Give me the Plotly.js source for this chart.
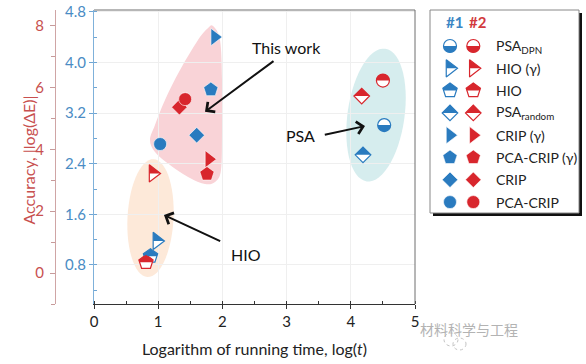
<!DOCTYPE html>
<html><head><meta charset="utf-8">
<script src="https://cdn.plot.ly/plotly-3.0.1.min.js"></script>
<style>html,body{margin:0;padding:0;background:#fff}#chart{width:586px;height:364px}</style>
</head><body><div id="chart"></div>
<script>
// ---------------- data ----------------
const methods = ['PSA_DPN', 'HIO (γ)', 'HIO', 'PSA_random', 'CRIP (γ)', 'PCA-CRIP (γ)', 'CRIP', 'PCA-CRIP'];
const legendLabels = ['PSA<sub>DPN</sub>', 'HIO (γ)', 'HIO', 'PSA<sub>random</sub>', 'CRIP (γ)', 'PCA-CRIP (γ)', 'CRIP', 'PCA-CRIP'];
const symbols = ['circle', 'triangle-right', 'pentagon', 'diamond', 'triangle-right', 'pentagon', 'diamond', 'circle'];
const half1 = ['bottom', 'top', 'top', 'top', '', '', '', ''];
const half2Legend = ['bottom', 'top', 'top', 'top', '', '', '', ''];
const half2Plot = ['top', 'top', 'top', 'top', '', '', '', ''];
// #1 (blue, inner axis 0.8..4.8)
const time1 = [4.52, 0.98, 0.88, 4.19, 1.88, 1.82, 1.60, 1.03];
const acc1  = [3.01, 1.18, 0.94, 2.54, 4.40, 3.57, 2.85, 2.71];
// #2 (red, outer axis 0..8)
const time2 = [4.50, 0.92, 0.81, 4.17, 1.79, 1.76, 1.33, 1.42];
const acc2  = [6.22, 3.22, 0.35, 5.72, 3.68, 3.20, 5.36, 5.62];
const xTicks = [0, 1, 2, 3, 4, 5];
const blueTicks = [0.8, 1.6, 2.4, 3.2, 4.0, 4.8];
const redTicks = [0, 2, 4, 6, 8];
const groupLabels = ['This work', 'PSA', 'HIO'];

// ---------------- style ----------------
const BLUE = '#2a7bbf', RED = '#d8262d';
const BLUE_TXT = '#4a8cc4', RED_TXT = '#c8504f';
const W = 586, H = 364, TOP = 10, BOT = 304;
const FONT = 'Lato, "Open Sans", sans-serif';
const symSize = {'circle': 13, 'triangle-right': 15, 'pentagon': 15, 'diamond': 12};
const px2x = p => p / W;
const py2y = p => (BOT - p) / (BOT - TOP);

function halfPath(sym, size, side) {
  const r = size / 2; let pts = [];
  if (sym === 'circle') { for (let i = 0; i <= 24; i++) { const a = Math.PI * i / 24; pts.push([r * Math.cos(a), r * Math.sin(a)]); } }
  else if (sym === 'triangle-right') { const rt = r * 2 / Math.sqrt(3); pts = [[-r / 2, rt], [r, 0], [-r / 2, 0]]; }
  else if (sym === 'pentagon') { pts = [[0, r], [0.951 * r, 0.309 * r], [0.8507 * r, 0], [-0.8507 * r, 0], [-0.951 * r, 0.309 * r]]; }
  else if (sym === 'diamond') { const rd = 1.3 * r; pts = [[-rd, 0], [0, rd], [rd, 0]]; }
  const s = side === 'bottom' ? -1 : 1;
  return 'M' + pts.map(p => p[0].toFixed(2) + ',' + (s * p[1]).toFixed(2)).join('L') + 'Z';
}
function ellipsePath(a, b, deg) {
  const th = deg * Math.PI / 180; const pts = [];
  for (let i = 0; i < 60; i++) {
    const t = 2 * Math.PI * i / 60; const x = a * Math.cos(t), y = b * Math.sin(t);
    const xs = x * Math.cos(th) - y * Math.sin(th), ys = x * Math.sin(th) + y * Math.cos(th);
    pts.push(xs.toFixed(2) + ',' + (-ys).toFixed(2));
  }
  return 'M' + pts.join('L') + 'Z';
}
function smoothClosed(pts) {
  const n = pts.length; const f = v => v.toFixed(4);
  let d = 'M' + f(pts[0][0]) + ',' + f(pts[0][1]);
  for (let i = 0; i < n; i++) {
    const p0 = pts[(i - 1 + n) % n], p1 = pts[i], p2 = pts[(i + 1) % n], p3 = pts[(i + 2) % n];
    const c1 = [p1[0] + (p2[0] - p0[0]) / 6, p1[1] + (p2[1] - p0[1]) / 6];
    const c2 = [p2[0] - (p3[0] - p1[0]) / 6, p2[1] - (p3[1] - p1[1]) / 6];
    d += 'C' + f(c1[0]) + ',' + f(c1[1]) + ' ' + f(c2[0]) + ',' + f(c2[1]) + ' ' + f(p2[0]) + ',' + f(p2[1]);
  }
  return d + 'Z';
}

// region outline (decoration, in blue-axis data units)
const blobPts = [[1.854, 4.574], [1.963, 4.353], [1.994, 3.721], [1.994, 2.932], [1.978, 2.299], [1.885, 2.110], [1.729, 2.078], [1.495, 2.173], [1.184, 2.378], [0.950, 2.584], [0.872, 2.773], [0.950, 3.010], [1.106, 3.405], [1.340, 3.879], [1.620, 4.353], [1.776, 4.542]];

const shapes = [];
shapes.push({type: 'path', xref: 'x', yref: 'y', path: smoothClosed(blobPts), fillcolor: '#f9d3d7', line: {width: 0}, layer: 'below'});
shapes.push({type: 'path', xref: 'x', yref: 'y', xsizemode: 'pixel', ysizemode: 'pixel', xanchor: 0.880, yanchor: 1.541, path: ellipsePath(23, 59, 3), fillcolor: '#fde9d9', line: {width: 0}, layer: 'below'});
shapes.push({type: 'path', xref: 'x', yref: 'y', xsizemode: 'pixel', ysizemode: 'pixel', xanchor: 4.393, yanchor: 3.168, path: ellipsePath(28.5, 67, 8), fillcolor: '#d6edee', line: {width: 0}, layer: 'below'});
// frame top/right
shapes.push({type: 'line', xref: 'x domain', yref: 'y domain', x0: 0, x1: 1, y0: 1, y1: 1, line: {color: '#6f6f6f', width: 1}});
shapes.push({type: 'line', xref: 'x domain', yref: 'y domain', x0: 1, x1: 1, y0: 0, y1: 1, line: {color: '#6f6f6f', width: 1}});
// legend box + shadow
shapes.push({type: 'rect', xref: 'paper', yref: 'paper', x0: px2x(433), x1: px2x(582), y0: py2y(216), y1: py2y(13), fillcolor: '#111', line: {width: 0}, layer: 'below'});
shapes.push({type: 'rect', xref: 'paper', yref: 'paper', x0: px2x(430), x1: px2x(579), y0: py2y(213), y1: py2y(10), fillcolor: '#fff', line: {color: '#888', width: 1}, layer: 'below'});
// watermark icon
shapes.push({type: 'circle', xref: 'paper', yref: 'paper', x0: px2x(444), x1: px2x(458), y0: py2y(346), y1: py2y(333), line: {color: '#c4c4c4', width: 1, dash: 'dot'}});
shapes.push({type: 'circle', xref: 'paper', yref: 'paper', x0: px2x(453), x1: px2x(466), y0: py2y(350), y1: py2y(338), line: {color: '#c4c4c4', width: 1, dash: 'dot'}});

// half fills
methods.forEach((m, i) => {
  const sz = symSize[symbols[i]];
  if (half1[i]) {
    shapes.push({type: 'path', xref: 'x', yref: 'y', xsizemode: 'pixel', ysizemode: 'pixel', xanchor: time1[i], yanchor: acc1[i], path: halfPath(symbols[i], sz, half1[i]), fillcolor: BLUE, line: {width: 0}});
    shapes.push({type: 'path', xref: 'x2', yref: 'y3', xsizemode: 'pixel', ysizemode: 'pixel', xanchor: 1, yanchor: i, path: halfPath(symbols[i], sz, half1[i]), fillcolor: BLUE, line: {width: 0}});
  }
  if (half2Plot[i]) {
    shapes.push({type: 'path', xref: 'x', yref: 'y2', xsizemode: 'pixel', ysizemode: 'pixel', xanchor: time2[i], yanchor: acc2[i], path: halfPath(symbols[i], sz, half2Plot[i]), fillcolor: RED, line: {width: 0}});
  }
  if (half2Legend[i]) {
    shapes.push({type: 'path', xref: 'x2', yref: 'y3', xsizemode: 'pixel', ysizemode: 'pixel', xanchor: 2, yanchor: i, path: halfPath(symbols[i], sz, half2Legend[i]), fillcolor: RED, line: {width: 0}});
  }
});

function markerStyle(halfArr, col) {
  return {
    symbol: symbols, size: symbols.map(s => symSize[s]), opacity: 1,
    color: halfArr.map(h => h ? '#ffffff' : col),
    line: {color: halfArr.map(h => h ? col : '#ffffff'), width: halfArr.map(h => h ? 1.2 : 0.6)}
  };
}
const rows = methods.map((m, i) => i);
const traces = [
  {type: 'scatter', mode: 'markers', name: '#1', x: time1, y: acc1, xaxis: 'x', yaxis: 'y', text: methods, marker: markerStyle(half1, BLUE), hoverinfo: 'text+x+y'},
  {type: 'scatter', mode: 'markers', name: '#2', x: time2, y: acc2, xaxis: 'x', yaxis: 'y2', text: methods, marker: markerStyle(half2Plot, RED), hoverinfo: 'text+x+y'},
  {type: 'scatter', mode: 'markers', name: 'legend #1', x: rows.map(() => 1), y: rows, xaxis: 'x2', yaxis: 'y3', marker: markerStyle(half1, BLUE), hoverinfo: 'skip'},
  {type: 'scatter', mode: 'markers', name: 'legend #2', x: rows.map(() => 2), y: rows, xaxis: 'x2', yaxis: 'y3', marker: markerStyle(half2Legend, RED), hoverinfo: 'skip'}
];

const annotations = [];
legendLabels.forEach((lab, i) => annotations.push({xref: 'x2', yref: 'y3', x: 2.88, y: i, text: lab, showarrow: false, xanchor: 'left', yanchor: 'middle', font: {size: 14, color: '#222', family: FONT}}));
annotations.push({xref: 'x2', yref: 'y3', x: 1.2, y: -1.07, text: '<b>#1</b>', showarrow: false, font: {size: 15, color: '#3b86c4', family: FONT}});
annotations.push({xref: 'x2', yref: 'y3', x: 2.2, y: -1.07, text: '<b>#2</b>', showarrow: false, font: {size: 15, color: '#d23a3e', family: FONT}});
const labelPos = [[3.006, 4.231], [3.221, 2.852], [2.368, 0.972]];
groupLabels.forEach((g, i) => annotations.push({xref: 'x', yref: 'y', x: labelPos[i][0], y: labelPos[i][1], text: g, showarrow: false, font: {size: 16, color: '#111', family: FONT}}));
const arrows = [[1.729, 3.220, 70, -51.7], [4.221, 2.994, -41.7, 9], [1.090, 1.588, 57.7, 26.7]];
arrows.forEach(a => annotations.push({xref: 'x', yref: 'y', x: a[0], y: a[1], ax: a[2], ay: a[3], axref: 'pixel', ayref: 'pixel', text: '', showarrow: true, arrowhead: 4, arrowsize: 1.2, arrowwidth: 2, arrowcolor: '#111', standoff: 0}));
annotations.push({xref: 'paper', yref: 'paper', x: px2x(16), y: py2y(160), text: 'Accuracy, |log(ΔE)|', textangle: -90, showarrow: false, font: {size: 16, color: RED_TXT, family: FONT}});
annotations.push({xref: 'paper', yref: 'paper', x: px2x(520), y: py2y(341), text: '材料科学与工程', showarrow: false, font: {size: 14, color: '#b3b3b3', family: '"Noto Sans CJK SC", sans-serif'}});

const layout = {
  width: W, height: H,
  margin: {l: 0, r: 0, t: TOP, b: H - BOT, pad: 0},
  paper_bgcolor: '#fff', plot_bgcolor: 'rgba(0,0,0,0)',
  showlegend: false,
  font: {family: FONT, size: 15, color: '#222'},
  xaxis: {
    domain: [94 / W, 415 / W], range: [0, 5], tickvals: xTicks, ticks: 'outside', ticklen: 4, tickcolor: '#333',
    showline: true, linecolor: '#333', linewidth: 1, showgrid: true, gridcolor: '#efefef', zeroline: false,
    minor: {dtick: 0.5, ticks: 'inside', ticklen: 3, tickcolor: '#333', showgrid: false},
    tickfont: {size: 15, color: '#222'}, anchor: 'y', fixedrange: true,
    title: {text: 'Logarithm of running time, log(<i>t</i>)', font: {size: 16, color: '#222'}, standoff: 14}
  },
  yaxis: {
    domain: [0, 1], range: [0.184, 4.827], tickvals: blueTicks, tickformat: '.1f', ticks: 'outside', ticklen: 4, tickcolor: '#6fa6d4',
    showline: true, linecolor: '#7fb1da', linewidth: 1, showgrid: true, gridcolor: '#efefef', zeroline: false,
    minor: {dtick: 0.4, tick0: 0, ticks: 'inside', ticklen: 3, tickcolor: '#6fa6d4', showgrid: false},
    tickfont: {size: 15, color: BLUE_TXT}, anchor: 'x', fixedrange: true
  },
  yaxis2: {
    overlaying: 'y', anchor: 'free', position: 55 / W, side: 'left', range: [-1, 8.5], tickvals: redTicks,
    ticks: 'outside', ticklen: 5, tickcolor: '#c79a9a', showline: true, linecolor: '#cfa5a5', linewidth: 1.3,
    showgrid: false, zeroline: false, minor: {dtick: 1, tick0: 0, ticks: 'outside', ticklen: 4, tickcolor: '#c79a9a'},
    tickfont: {size: 15, color: RED_TXT}, ticklabelstandoff: 3, fixedrange: true
  },
  xaxis2: {domain: [430 / W, 579 / W], range: [0.1416, 6.536], visible: false, anchor: 'y3', fixedrange: true},
  yaxis3: {domain: [py2y(213), 1], range: [7.49, -1.615], visible: false, anchor: 'x2', fixedrange: true},
  shapes: shapes, annotations: annotations
};
Plotly.newPlot('chart', traces, layout, {displayModeBar: false, staticPlot: true});
</script></body></html>
